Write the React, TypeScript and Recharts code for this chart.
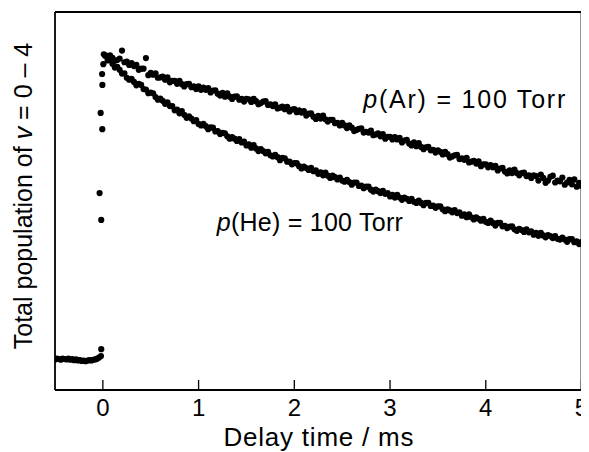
import { ScatterChart, Scatter, XAxis, YAxis, ReferenceDot, ReferenceLine } from "recharts"

// sampling interval of the decay traces (ms)
const delayStep = 0.025

// pre-trigger baseline (shared by both runs)
const preTime = [
  -0.5, -0.48, -0.46, -0.44, -0.42, -0.4, -0.38, -0.36, -0.34, -0.32, -0.3, -0.28, -0.26,
  -0.24, -0.22, -0.2, -0.18, -0.16, -0.14, -0.12, -0.1, -0.08, -0.06, -0.04, -0.02, -0.017,
]
const preSignal = [
  8.1, 8.3, 8.2, 8.0, 8.3, 8.2, 8.1, 8.3, 8.0, 8.2, 7.9, 8.1, 7.8,
  7.9, 7.7, 7.8, 7.6, 7.8, 7.9, 7.8, 8.0, 8.1, 8.3, 8.6, 9.0, 10.8,
]

// points on the rising edge at t = 0
const riseTime = [-0.034, -0.017, -0.006, -0.023, -0.005, -0.008, 0.005, 0.01]
const riseSignal = [52.1, 45.0, 69.0, 73.3, 80.7, 83.6, 86.2, 88.8]

// p(Ar) = 100 Torr, t = 0.025 ... 5.000 ms
const arSignal = [
  88.5, 87.8, 88.5, 87.9, 87.1, 87.3, 87.7, 89.8, 86.7, 86.9,
  86.0, 86.5, 85.7, 86.0, 84.7, 85.0, 85.0, 87.8, 83.3, 83.9,
  83.4, 83.8, 82.6, 82.7, 82.9, 82.1, 82.7, 81.4, 81.8, 81.8,
  81.0, 81.8, 80.9, 80.3, 80.9, 81.0, 80.1, 80.3, 79.6, 80.3,
  79.4, 80.0, 79.4, 79.9, 78.7, 79.2, 79.3, 78.4, 77.9, 78.6,
  77.6, 78.5, 77.6, 77.0, 77.6, 77.7, 76.8, 77.0, 76.3, 77.0,
  76.9, 76.2, 77.0, 76.4, 75.6, 75.9, 76.3, 76.4, 75.4, 75.6,
  75.1, 75.6, 74.5, 74.7, 75.0, 74.3, 74.9, 73.7, 74.2, 74.3,
  73.5, 74.0, 73.4, 73.8, 72.6, 73.1, 73.2, 72.3, 71.7, 72.5,
  71.8, 72.6, 71.6, 71.0, 71.5, 71.5, 70.6, 70.7, 70.0, 70.7,
  70.0, 69.3, 70.0, 69.4, 68.5, 68.8, 69.1, 69.2, 68.1, 68.3,
  68.1, 68.6, 67.4, 67.6, 67.9, 67.1, 67.7, 66.5, 67.0, 67.0,
  66.3, 66.9, 66.3, 66.7, 65.5, 66.0, 66.2, 65.2, 64.7, 65.5,
  64.5, 65.3, 64.3, 63.7, 64.2, 64.3, 63.4, 63.5, 62.8, 63.4,
  63.0, 62.3, 63.0, 62.4, 61.5, 61.8, 62.1, 62.2, 61.1, 61.3,
  60.9, 61.4, 60.2, 60.4, 60.6, 59.9, 60.5, 59.2, 59.7, 59.7,
  58.9, 59.5, 58.9, 59.3, 58.1, 58.6, 58.8, 57.8, 57.3, 58.1,
  57.4, 58.3, 57.4, 56.8, 57.4, 57.5, 56.6, 56.8, 56.1, 56.8,
  56.6, 55.4, 57.0, 56.1, 54.8, 55.4, 56.4, 56.7, 54.9, 55.4,
  55.2, 56.2, 54.3, 54.9, 55.6, 54.4, 55.7, 53.8, 54.8, 54.0,
]

// p(He) = 100 Torr, t = 0.025 ... 5.000 ms
const heSignal = [
  88.4, 87.2, 87.5, 86.3, 85.3, 85.5, 84.7, 83.7, 83.8, 82.6,
  82.1, 82.3, 81.5, 80.6, 81.0, 80.7, 79.6, 79.5, 78.5, 78.7,
  78.5, 77.5, 76.8, 77.1, 76.5, 75.7, 76.1, 75.1, 75.1, 74.0,
  74.2, 73.2, 73.8, 72.8, 72.0, 72.4, 71.8, 71.1, 71.4, 70.4,
  70.0, 70.4, 69.8, 69.0, 69.5, 69.4, 68.4, 68.5, 67.7, 68.0,
  67.9, 67.1, 66.5, 66.9, 66.5, 65.9, 66.4, 65.5, 65.7, 64.7,
  65.0, 64.1, 64.8, 63.9, 63.2, 63.7, 63.2, 62.6, 63.0, 62.1,
  61.8, 62.2, 61.6, 60.8, 61.4, 61.3, 60.4, 60.4, 59.7, 60.0,
  60.0, 59.2, 58.6, 59.1, 58.7, 58.2, 58.8, 57.9, 58.1, 57.2,
  57.6, 56.8, 57.5, 56.7, 56.1, 56.7, 56.3, 55.7, 56.2, 55.4,
  55.1, 55.6, 55.0, 54.3, 54.9, 54.9, 54.0, 54.1, 53.4, 53.8,
  53.8, 53.0, 52.5, 53.0, 52.6, 52.1, 52.7, 51.9, 52.1, 51.2,
  51.6, 50.9, 51.6, 50.9, 50.3, 50.9, 50.6, 50.0, 50.6, 49.8,
  49.5, 50.1, 49.5, 48.9, 49.5, 49.5, 48.7, 48.8, 48.2, 48.6,
  48.6, 47.8, 47.3, 47.8, 47.5, 47.0, 47.6, 46.8, 47.0, 46.1,
  46.5, 45.7, 46.5, 45.7, 45.1, 45.7, 45.3, 44.8, 45.3, 44.5,
  44.2, 44.8, 44.2, 43.5, 44.2, 44.2, 43.3, 43.4, 42.8, 43.2,
  43.3, 42.5, 42.1, 42.6, 42.3, 41.8, 42.5, 41.7, 42.0, 41.1,
  41.6, 40.8, 41.6, 40.9, 40.4, 41.0, 40.7, 40.2, 40.7, 40.0,
  39.8, 40.3, 39.8, 39.2, 39.9, 39.9, 39.1, 39.3, 38.6, 39.1,
]

const timeTicks = [0, 1, 2, 3, 4, 5]

const font = '"Liberation Sans", Arial, Helvetica, sans-serif'
const frame = { stroke: "#000", strokeWidth: 1.8 }

const toPoints = (times: number[], values: number[]) => times.map((t, i) => ({ t, v: values[i] }))
const traceToPoints = (values: number[]) =>
  values.map((v, i) => ({ t: Number(((i + 1) * delayStep).toFixed(3)), v }))

const preData = toPoints(preTime, preSignal)
const riseData = toPoints(riseTime, riseSignal)
const arData = traceToPoints(arSignal)
const heData = traceToPoints(heSignal)

const Dot = (props: any) => <circle cx={props.cx} cy={props.cy} r={3.1} fill="#000" />

const TimeTick = (props: any) => {
  const { x, y, payload } = props
  return (
    <g>
      <line x1={x} x2={x} y1={y} y2={y - 10} stroke="#000" strokeWidth={1.3} />
      <text x={x} y={y + 26} textAnchor="middle" fontSize={24} fontFamily={font} fill="#000">
        {payload.value}
      </text>
    </g>
  )
}

const PressureLabel = (gas: string, width: number) => (p: any) => (
  <text
    x={p.cx}
    y={p.cy}
    fontSize={25}
    fontFamily={font}
    fill="#000"
    textLength={width}
    lengthAdjust="spacing"
  >
    <tspan fontStyle="italic">p</tspan>({gas}) = 100 Torr
  </text>
)

export default function App() {
  return (
    <ScatterChart width={581} height={444} margin={{ top: 3, right: 7.5, bottom: 0, left: 0 }}>
      <XAxis
        type="number"
        dataKey="t"
        domain={[-0.5, 5]}
        ticks={timeTicks}
        allowDataOverflow
        axisLine={frame}
        tickLine={false}
        tickSize={0}
        tickMargin={0}
        tick={TimeTick}
        height={62}
        label={{
          content: () => (
            <text
              x={310.5}
              y={438}
              textAnchor="middle"
              fontSize={26}
              fontFamily={font}
              fill="#000"
              textLength={190}
              lengthAdjust="spacing"
            >
              Delay time / ms
            </text>
          ),
        }}
      />
      {/* top edge of the box */}
      <XAxis
        xAxisId="top"
        orientation="top"
        type="number"
        dataKey="t"
        domain={[-0.5, 5]}
        allowDataOverflow
        height={1}
        tick={false}
        tickLine={false}
        axisLine={frame}
      />
      <YAxis
        type="number"
        dataKey="v"
        domain={[0, 100]}
        allowDataOverflow
        tick={false}
        tickLine={false}
        axisLine={frame}
        width={47}
        label={{
          content: () => (
            <text
              x={24}
              y={188}
              transform="rotate(-90 24 188)"
              textAnchor="middle"
              fontSize={25}
              fontFamily={font}
              fill="#000"
            >
              Total population of <tspan fontStyle="italic">v</tspan> = 0 – 4
            </text>
          ),
        }}
      />
      <ReferenceLine
        segment={[
          { x: -0.5, y: 100 },
          { x: 5, y: 100 },
        ]}
        stroke="#000"
        strokeWidth={1.8}
        ifOverflow="visible"
      />
      <ReferenceLine x={5} stroke="#000" strokeWidth={1.8} ifOverflow="visible" />
      <Scatter data={preData} shape={Dot} isAnimationActive={false} />
      <Scatter data={riseData} xAxisId="top" shape={Dot} isAnimationActive={false} />
      <Scatter data={arData} shape={Dot} isAnimationActive={false} />
      <Scatter data={heData} shape={Dot} isAnimationActive={false} />
      <ReferenceDot x={2.72} y={74.6} r={0} shape={PressureLabel("Ar", 202)} />
      <ReferenceDot x={1.19} y={42.1} r={0} shape={PressureLabel("He", 186)} />
    </ScatterChart>
  )
}
